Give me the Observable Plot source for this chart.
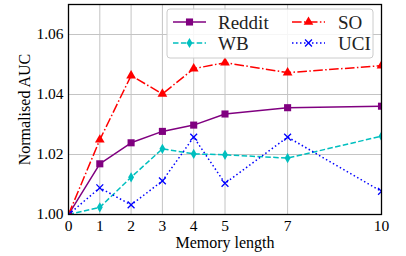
<!DOCTYPE html>
<html>
<head>
<meta charset="utf-8">
<script src="https://cdn.jsdelivr.net/npm/d3@7"></script>
<script src="https://cdn.jsdelivr.net/npm/@observablehq/plot@0.6"></script>
<style>
  html, body { margin: 0; padding: 0; background: white; }
</style>
</head>
<body>
<script>
// ---- data ----
const memory = [0, 1, 2, 3, 4, 5, 7, 10];
const reddit = [1.000, 1.0169, 1.0239, 1.0277, 1.0298, 1.0335, 1.0356, 1.0361];
const wb     = [1.000, 1.0024, 1.0124, 1.0219, 1.0202, 1.0199, 1.0188, 1.0261];
const so     = [1.000, 1.0249, 1.0463, 1.0402, 1.0486, 1.0506, 1.0473, 1.0496];
const uci    = [1.000, 1.0089, 1.0032, 1.0112, 1.0258, 1.0104, 1.0258, 1.0077];
const yTicks = [1.00, 1.02, 1.04, 1.06];
const seriesNames = ["Reddit", "WB", "SO", "UCI"];
const seriesValues = [reddit, wb, so, uci];

// ---- styles ----
const styles = {
  Reddit: {color: "#800080", symbol: "square",   r: 4,   dash: null,              fill: true},
  WB:     {color: "#00BFBF", symbol: "diamond",  r: 3.1, dash: "5.5,2.4",         fill: true},
  SO:     {color: "#FF0000", symbol: "triangle", r: 3.6, dash: "9.6,2.4,1.5,2.4", fill: true},
  UCI:    {color: "#0000FF", symbol: "times",    r: 3.2, dash: "1.5,2.5",         fill: false}
};

const rows = seriesNames.flatMap((name, k) =>
  memory.map((m, i) => ({series: name, memory: m, value: seriesValues[k][i]})));

const W = 406, H = 256;
const font = "Liberation Serif";

const marks = [
  Plot.gridX(memory, {stroke: "#c4c4c4", strokeOpacity: 1, strokeWidth: 1}),
  Plot.gridY(yTicks, {stroke: "#c4c4c4", strokeOpacity: 1, strokeWidth: 1}),
];
for (const name of seriesNames) {
  const s = styles[name];
  const data = rows.filter(d => d.series === name);
  marks.push(Plot.line(data, {
    x: "memory", y: "value", stroke: s.color, strokeWidth: 1.5,
    strokeDasharray: s.dash ?? undefined, strokeLinecap: "butt", clip: true
  }));
}
for (const name of seriesNames) {
  const s = styles[name];
  const data = rows.filter(d => d.series === name);
  marks.push(Plot.dot(data, s.fill
    ? {x: "memory", y: "value", symbol: () => s.symbol, r: s.r, fill: s.color, stroke: "none", clip: true}
    : {x: "memory", y: "value", symbol: () => s.symbol, r: s.r, stroke: s.color, strokeWidth: 1.3, fill: "none", clip: true}));
}
marks.push(
  Plot.axisX({ticks: memory, tickSize: 0, tickPadding: 5, tickFormat: d3.format("d"), fontSize: 15.5, fontFamily: font,
    label: "Memory length", labelAnchor: "center", labelArrow: "none", labelOffset: 33}),
  Plot.axisY({ticks: yTicks, tickSize: 0, tickPadding: 5, tickFormat: d3.format(".2f"), fontSize: 15.5, fontFamily: font,
    label: "Normalised AUC", labelAnchor: "center", labelArrow: "none", labelOffset: 50}),
  Plot.frame({stroke: "black", strokeWidth: 1.3})
);

const svg = Plot.plot({
  width: W, height: H,
  marginLeft: 68, marginRight: 25, marginTop: 4, marginBottom: 42,
  x: {domain: [0, 10], label: null},
  y: {domain: [1.0, 1.07], label: null},
  symbol: {type: "identity"},
  style: {background: "white"},
  marks
});
svg.setAttribute("font-family", font);
svg.setAttribute("font-size", "15.5");
svg.style.fontFamily = font;
svg.querySelectorAll("style").forEach(el => el.remove());

const S = d3.select(svg);
S.selectAll("g").filter(function() { return this.hasAttribute("font-family"); }).attr("font-family", font);
S.selectAll('g[aria-label$="-axis label"]').attr("font-size", 16);
S.selectAll("text").attr("font-family", font);

// ---- legend (drawn into the same svg) ----
const lg = S.append("g").attr("font-family", font).attr("font-size", 19).attr("fill", "#222").attr("text-anchor", "start");
const box = {x: 167, y: 9, w: 206, h: 49};
lg.append("rect").attr("x", box.x).attr("y", box.y).attr("width", box.w).attr("height", box.h)
  .attr("rx", 3).attr("fill", "white").attr("fill-opacity", 0.85).attr("stroke", "#cccccc");
const cols = [{x0: 173, x1: 206, tx: 218}, {x0: 292, x1: 325, tx: 338}];
const rowY = [22, 43];
const symbolMap = {square: d3.symbolSquare, diamond: d3.symbolDiamond, triangle: d3.symbolTriangle, times: d3.symbolTimes};
seriesNames.forEach((name, k) => {
  const s = styles[name];
  const c = cols[Math.floor(k / 2)], y = rowY[k % 2];
  lg.append("line").attr("x1", c.x0).attr("x2", c.x1).attr("y1", y).attr("y2", y)
    .attr("stroke", s.color).attr("stroke-width", 1.5).attr("stroke-dasharray", s.dash);
  const p = lg.append("path").attr("transform", `translate(${(c.x0 + c.x1) / 2},${y})`)
    .attr("d", d3.symbol(symbolMap[s.symbol], Math.PI * s.r * s.r)());
  if (s.fill) p.attr("fill", s.color); else p.attr("fill", "none").attr("stroke", s.color).attr("stroke-width", 1.3);
  lg.append("text").attr("x", c.tx).attr("y", y).attr("dy", "0.35em")
    .attr("font-family", font).attr("font-size", 19).text(name);
});

document.body.appendChild(svg);
</script>
</body>
</html>
